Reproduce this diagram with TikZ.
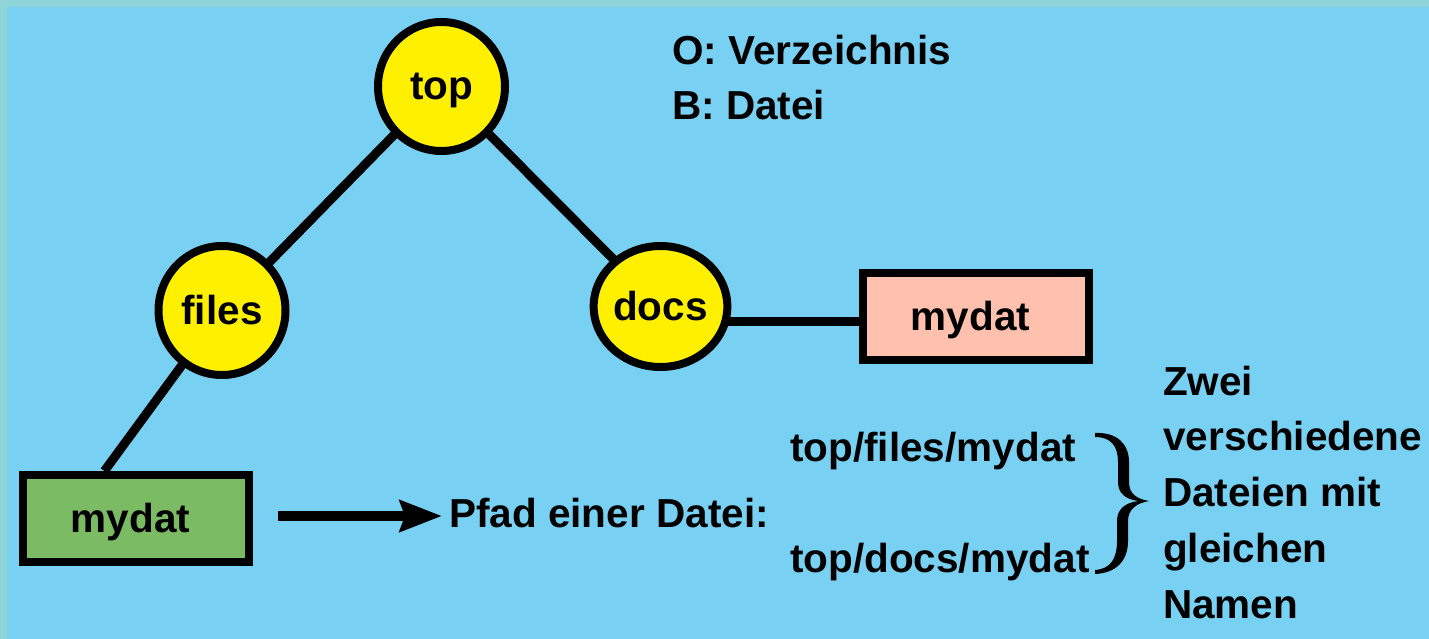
\documentclass[tikz,border=0pt]{standalone}
\usepackage{fontspec}
\setmainfont{Liberation Sans}
\usetikzlibrary{arrows.meta,shapes.geometric,calc}
\definecolor{skyfill}{RGB}{120,209,242}
\definecolor{framecol}{RGB}{143,212,216}
\definecolor{diryellow}{RGB}{255,240,0}
\definecolor{filegreen}{RGB}{122,187,99}
\definecolor{filepink}{RGB}{255,192,174}
\pgfdeclarelayer{bg}
\pgfdeclarelayer{links}
\pgfsetlayers{bg,links,main}
\begin{document}
\begin{tikzpicture}[x=1pt,y=-1pt,
  font=\bfseries\fontsize{40.5}{55.7}\selectfont,
  dirnode/.style={ellipse,draw,line width=8pt,fill=diryellow,inner sep=0pt,
    text height=27pt,text depth=0pt},
  filebox/.style={rectangle,draw,line width=8pt,minimum width=226pt,minimum height=87pt,
    inner sep=0pt,text height=27pt,text depth=0pt},
  conn/.style={line width=9pt},
  txt/.style={inner sep=0pt,anchor=base west},
  arrowline/.style={line width=9.5pt,-{Stealth[length=42pt,width=31pt,inset=5pt]}}]
\useasboundingbox (0,0) rectangle (1429,639);
\begin{pgfonlayer}{bg}
  \fill[framecol] (0,0) rectangle (1429,639);
  \fill[skyfill] (7,7) rectangle (1429,639);
\end{pgfonlayer}

% directories
\node[dirnode,minimum width=127pt,minimum height=129pt] (top) at (441.5,86.5) {top};
\node[dirnode,minimum width=127pt,minimum height=129pt] (files) at (222,310.5) {files};
\node[dirnode,minimum width=127pt,minimum height=121pt] (docs) at (660.5,306.5) {docs};

% files
\node[filebox,fill=filegreen] (gbox) at (136,518.5) {\hspace*{-11pt}mydat};
\node[filebox,fill=filepink] (pbox) at (976,316.5) {\hspace*{-11pt}mydat};

% tree edges
\coordinate (gjoin) at ($(gbox.north west)!0.365!(gbox.north east)$);
\coordinate (pjoin) at ([yshift=-4.5pt]pbox.west);
\begin{pgfonlayer}{links}
  \draw[conn] (top.center) -- (files.center);
  \draw[conn] (top.center) -- (docs.center);
  \draw[conn] (files.center) -- (gjoin);
  \draw[conn] (docs.center |- pjoin) -- (pjoin);
\end{pgfonlayer}

% legend
\node[txt] (legdir) at (672,65) {O: Verzeichnis};
\node[txt] (legfile) at (672,120) {B: Datei};

% path of a file
\node[txt] (pfad) at (449,527) {Pfad einer Datei:};
\coordinate (astart) at ([xshift=25pt,yshift=2.5pt]gbox.east);
\draw[arrowline] (astart) -- ([xshift=-7pt]astart -| pfad.west);

\node[txt] (pathA) at (790,461) {top/files/mydat};
\node[txt] (pathB) at (790,572) {top/docs/mydat};

% brace
\fill[black] (1095,433) .. controls (1117,432) and (1129,444) .. (1129,462)
  -- (1129,482) .. controls (1129,494) and (1137,499) .. (1149,501)
  .. controls (1137,503) and (1128,509) .. (1128,521)
  -- (1128,541) .. controls (1128,560) and (1117,573) .. (1095,574)
  -- (1095,570) .. controls (1111,569) and (1117,558) .. (1117,541)
  -- (1117,521) .. controls (1117,510) and (1124,503) .. (1138,501)
  .. controls (1124,499) and (1118,492) .. (1118,482)
  -- (1118,462) .. controls (1118,446) and (1111,437) .. (1095,437) -- cycle;

% note
\foreach [count=\i] \t in {Zwei, verschiedene, Dateien mit, gleichen, Namen}
  \node[txt] (note\i) at (1163,{395+55.75*(\i-1)}) {\t};
\end{tikzpicture}
\end{document}
